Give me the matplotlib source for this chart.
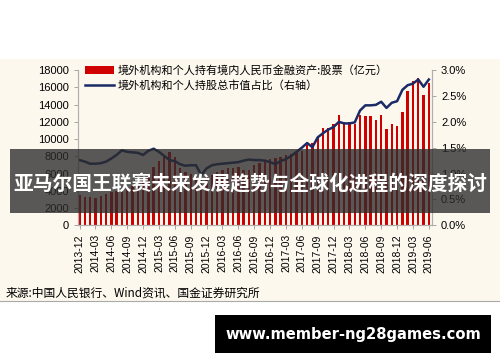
import matplotlib
matplotlib.use("Agg")
import matplotlib.pyplot as plt
from matplotlib.patches import Rectangle
from matplotlib.lines import Line2D
import pandas as pd

plt.rcParams['font.family'] = ['Noto Sans CJK SC', 'DejaVu Sans']

months = pd.date_range("2013-12-01", "2019-06-01", freq="MS").strftime("%Y-%m").tolist()

# foreign holdings of RMB stocks (100 mn yuan)
stock_holdings = [3500, 3300, 3300, 3200, 3400, 3600, 3800, 4000, 4200, 4300, 4500, 4700,
                  5200, 6000, 6800, 7400, 7900, 8500, 7900, 6600, 6200, 5900, 5800, 5500,
                  5600, 5800, 6200, 6400, 6600, 6600, 6800, 6400, 6400, 7000, 7200, 7400,
                  7700, 7800, 7900, 8100, 8300, 8500, 8600, 9300, 9600, 10200, 11300, 11300,
                  11700, 12800, 12000, 12000, 11800, 12800, 12700, 12700, 12200, 12800, 11200, 11800,
                  11500, 13100, 15600, 16700, 17100, 15100, 16500]
# share of total market cap (%)
share_pct = [1.26, 1.23, 1.19, 1.19, 1.20, 1.23, 1.29, 1.36, 1.45, 1.42, 1.41, 1.40,
             1.36, 1.44, 1.48, 1.42, 1.34, 1.26, 1.24, 1.18, 1.15, 1.16, 1.16, 0.97,
             1.10, 1.16, 1.18, 1.19, 1.20, 1.21, 1.22, 1.25, 1.27, 1.26, 1.26, 1.25,
             1.22, 1.18, 1.24, 1.28, 1.34, 1.42, 1.50, 1.59, 1.51, 1.70, 1.78, 1.85,
             1.90, 2.00, 1.97, 1.97, 1.99, 2.22, 2.32, 2.32, 2.33, 2.39, 2.27, 2.37,
             2.40, 2.62, 2.71, 2.74, 2.82, 2.68, 2.82]

label_bar = "境外机构和个人持有境内人民币金融资产:股票（亿元）"
label_line = "境外机构和个人持股总市值占比（右轴）"
title = "亚马尔国王联赛未来发展趋势与全球化进程的深度探讨"
source = "来源:中国人民银行、Wind资讯、国金证券研究所"
watermark = "www.member-ng28games.com"

fig = plt.figure(figsize=(5, 3.62), dpi=100)
fig.patch.set_facecolor("white")
fig.add_artist(Rectangle((0, 0.1685), 1, 0.6685, transform=fig.transFigure,
                         facecolor="#fdf8ee", edgecolor="none", zorder=-5))
fig.add_artist(Line2D([0, 1], [0.1685, 0.1685], transform=fig.transFigure,
                      color="#aaaaaa", lw=0.8))

ax = fig.add_axes([0.156, 0.378, 0.708, 0.428])
ax.set_facecolor("none")
x = list(range(len(months)))
ax.bar(x, stock_holdings, width=0.45, color="#d00000", label=label_bar)
ax.set_ylim(0, 18000)
ax.set_yticks(range(0, 18001, 2000))
ax.set_xlim(-0.3, len(months) - 0.4)
ax.set_xticks(x[::3])
ax.set_xticklabels(months[::3], rotation=90, fontsize=7.5, family="Liberation Sans")
for lab in ax.get_yticklabels():
    lab.set_family("Liberation Sans")
    lab.set_fontsize(8)

ax2 = ax.twinx()
ax2.plot(x, share_pct, color="#1a2a66", lw=1.8, label=label_line)
ax2.set_ylim(0, 3.0)
ax2.set_yticks([0, 0.5, 1.0, 1.5, 2.0, 2.5, 3.0])
ax2.set_yticklabels([f"{v:.1f}%" for v in ax2.get_yticks()], fontsize=8,
                    family="Liberation Sans")

for a in (ax, ax2):
    a.spines["top"].set_visible(False)
    for s in ("left", "right", "bottom"):
        a.spines[s].set_color("#b0b0b0")
    a.tick_params(colors="#999999", labelcolor="black", length=3, width=0.6)

h1, l1 = ax.get_legend_handles_labels()
h2, l2 = ax2.get_legend_handles_labels()
ax.legend(h1 + h2, l1 + l2, loc="upper left", bbox_to_anchor=(0.0, 1.075),
          frameon=False, fontsize=8, handlelength=2.6, handletextpad=0.4,
          labelspacing=0.35, borderaxespad=0.2)

# banner with title
fig.add_artist(Rectangle((0.02, 0.4116), 0.96, 0.1768, transform=fig.transFigure,
                         facecolor="#2b2b2b", alpha=0.78, edgecolor="none", zorder=10))
fig.text(0.5, 0.492, title, ha="center", va="center", color="white",
         fontsize=14.2, fontweight="bold", zorder=11)

fig.text(0.012, 0.19, source, ha="left", va="center", fontsize=8.5,
         fontweight="medium", zorder=11)

fig.add_artist(Rectangle((0.43, 0.0249), 0.552, 0.105, transform=fig.transFigure,
                         facecolor="black", edgecolor="none", zorder=10))
fig.text(0.706, 0.077, watermark, ha="center", va="center", color="white",
         fontsize=10.6, fontweight="bold", family="DejaVu Sans", zorder=11)

fig.savefig("out.png", dpi=100)
